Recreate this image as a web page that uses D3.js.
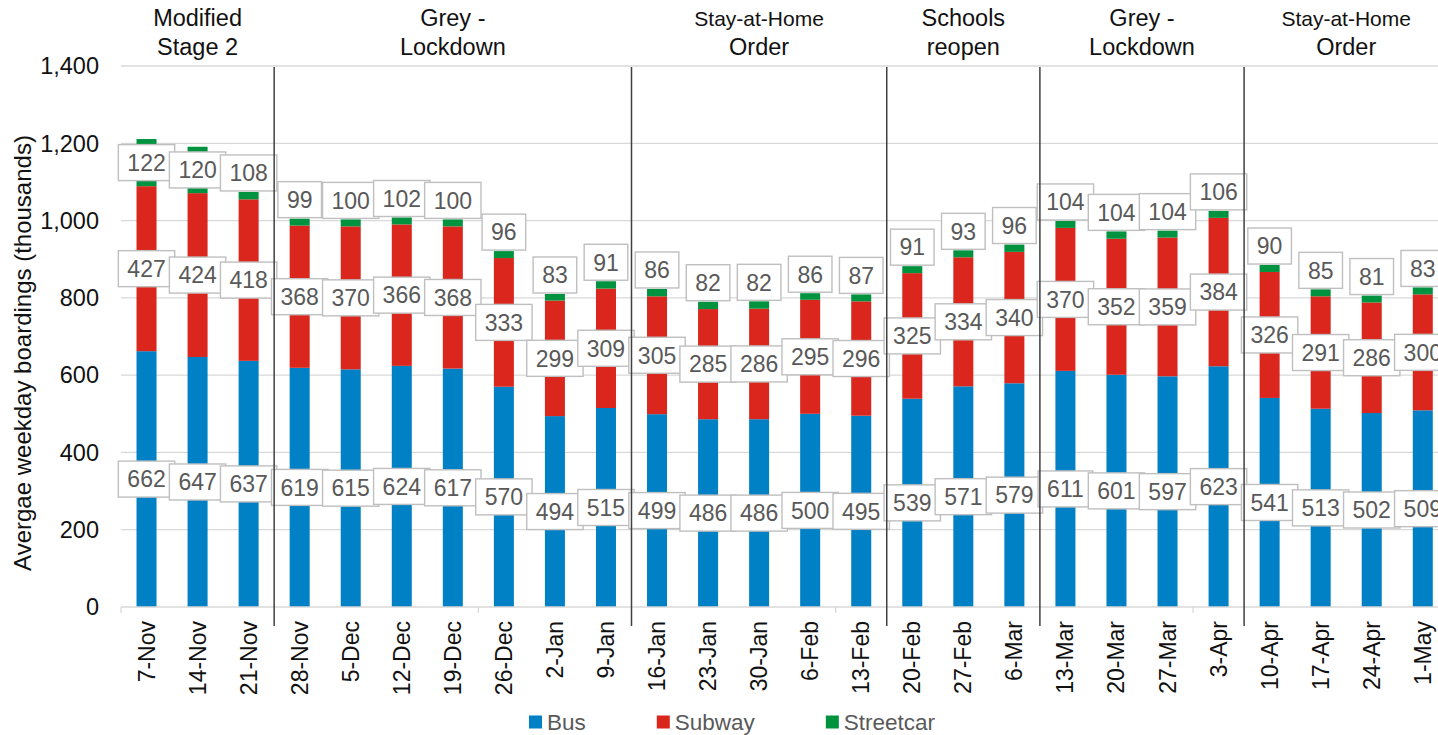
<!DOCTYPE html>
<html>
<head>
<meta charset="utf-8">
<script src="https://cdn.jsdelivr.net/npm/d3@7"></script>
<style>
  body { margin: 0; background: #fff; }
  svg { display: block; font-family: "Liberation Sans", Arial, sans-serif; }
</style>
</head>
<body>
<svg id="drawing_region"></svg>
<script>
// weekly data (thousands)
const weeks = ["7-Nov", "14-Nov", "21-Nov", "28-Nov", "5-Dec", "12-Dec", "19-Dec", "26-Dec",
  "2-Jan", "9-Jan", "16-Jan", "23-Jan", "30-Jan", "6-Feb", "13-Feb", "20-Feb", "27-Feb",
  "6-Mar", "13-Mar", "20-Mar", "27-Mar", "3-Apr", "10-Apr", "17-Apr", "24-Apr", "1-May"];
const bus = [662, 647, 637, 619, 615, 624, 617, 570, 494, 515, 499, 486, 486, 500, 495,
  539, 571, 579, 611, 601, 597, 623, 541, 513, 502, 509];
const subway = [427, 424, 418, 368, 370, 366, 368, 333, 299, 309, 305, 285, 286, 295, 296,
  325, 334, 340, 370, 352, 359, 384, 326, 291, 286, 300];
// streetcar: value shown in the label, and height of the drawn segment
const streetcarLabels = [122, 120, 108, 99, 100, 102, 100, 96, 83, 91, 86, 82, 82, 86, 87,
  91, 93, 96, 104, 104, 104, 106, 90, 85, 81, 83];
const streetcarBars = [122, 120, 19, 18, 18, 18, 18, 18, 17, 19, 19, 19, 19, 17, 18,
  18, 18, 19, 18, 19, 18, 18, 18, 18, 18, 18];
const yTicks = [0, 200, 400, 600, 800, 1000, 1200, 1400];
const seriesNames = ["Bus", "Subway", "Streetcar"];
const seriesColors = ["#0081c6", "#da261d", "#00933f"];
const phaseTitles = [["Modified", "Stage 2"], ["Grey -", "Lockdown"], ["Stay-at-Home", "Order"],
  ["Schools", "reopen"], ["Grey -", "Lockdown"], ["Stay-at-Home", "Order"]];
const phaseStarts = ["7-Nov", "28-Nov", "16-Jan", "20-Feb", "13-Mar", "10-Apr"];

const width = 1438, height = 735;
const margin = { top: 66, left: 121, bottom: 128 };
const step = 51.05;

const svg = d3.select("#drawing_region").attr("width", width).attr("height", height);

const x = d3.scaleBand()
  .domain(weeks)
  .range([margin.left, margin.left + step * weeks.length])
  .paddingInner(0.608)
  .paddingOuter(0.304);
const y = d3.scaleLinear().domain([0, 1400]).range([height - margin.bottom + 0, margin.top]);
const x0 = x.range()[0];
const boundary = (i) => x0 + i * x.step();

// gridlines
svg.append("g")
  .selectAll("line")
  .data(yTicks.slice(1))
  .join("line")
  .attr("x1", x0).attr("x2", width)
  .attr("y1", (d) => y(d)).attr("y2", (d) => y(d))
  .attr("stroke", "#d9d9d9").attr("stroke-width", 1.3);

// stacked bars
const rows = weeks.map((w, i) => ({ week: w, Bus: bus[i], Subway: subway[i], Streetcar: streetcarBars[i] }));
const stacked = d3.stack().keys(seriesNames)(rows);

svg.append("g")
  .selectAll("g")
  .data(stacked)
  .join("g")
  .attr("fill", (d, i) => seriesColors[i])
  .selectAll("rect")
  .data((d) => d)
  .join("rect")
  .attr("x", (d) => x(d.data.week))
  .attr("width", x.bandwidth())
  .attr("y", (d) => y(d[1]))
  .attr("height", (d) => y(d[0]) - y(d[1]));

// x axis line and ticks
svg.append("line")
  .attr("x1", x0).attr("x2", width)
  .attr("y1", y(0)).attr("y2", y(0))
  .attr("stroke", "#d9d9d9").attr("stroke-width", 1.3);
svg.append("g")
  .selectAll("line")
  .data([0, 7, 14, 21])
  .join("line")
  .attr("x1", (d) => boundary(d)).attr("x2", (d) => boundary(d))
  .attr("y1", y(0)).attr("y2", y(0) + 6)
  .attr("stroke", "#d9d9d9").attr("stroke-width", 1.3);

// data labels
const labelValues = [bus, subway, streetcarLabels];
const boxH = 36, padX = 9;
const labels = [];
stacked.forEach((s, k) => {
  s.forEach((d, i) => {
    const top = y(d[1]), bottom = y(d[0]);
    const cy = bottom - top >= boxH ? (top + bottom) / 2 : top - boxH / 2 - 1;
    labels.push({ cx: x(d.data.week) + x.bandwidth() / 2, cy: cy, text: labelValues[k][i] });
  });
});

const labelGroups = svg.append("g")
  .selectAll("g")
  .data(labels)
  .join("g")
  .attr("transform", (d) => `translate(${d.cx}, ${d.cy})`);

labelGroups.append("rect")
  .attr("fill", "#fff")
  .attr("stroke", "#bfbfbf")
  .attr("stroke-width", 1.4);

labelGroups.append("text")
  .attr("text-anchor", "middle")
  .attr("dy", "0.36em")
  .attr("font-size", 23)
  .attr("fill", "#595959")
  .text((d) => d.text);

labelGroups.each(function () {
  const g = d3.select(this);
  const w = g.select("text").node().getComputedTextLength() + padX * 2;
  g.select("rect")
    .attr("x", -w / 2).attr("y", -boxH / 2)
    .attr("width", w).attr("height", boxH);
});

// phase separators
svg.append("g")
  .selectAll("line")
  .data(phaseStarts.slice(1))
  .join("line")
  .attr("x1", (d) => boundary(weeks.indexOf(d)))
  .attr("x2", (d) => boundary(weeks.indexOf(d)))
  .attr("y1", y(1400) + 1).attr("y2", y(0) + 19)
  .attr("stroke", "#404040").attr("stroke-width", 1.5);

// phase titles
phaseTitles.forEach((lines, i) => {
  const start = weeks.indexOf(phaseStarts[i]);
  const end = i + 1 < phaseStarts.length ? weeks.indexOf(phaseStarts[i + 1]) : weeks.length;
  const cx = (boundary(start) + boundary(end)) / 2;
  const t = svg.append("text")
    .attr("x", cx)
    .attr("text-anchor", "middle")
    .attr("fill", "#111");
  lines.forEach((line, j) => {
    t.append("tspan")
      .attr("x", cx)
      .attr("y", j === 0 ? 26 : 55)
      .attr("font-size", line === "Stay-at-Home" ? 21 : 23.5)
      .text(line);
  });
});

// category labels
svg.append("g")
  .selectAll("text")
  .data(weeks)
  .join("text")
  .attr("transform", (d) => `translate(${x(d) + x.bandwidth() / 2 + 8}, ${y(0) + 14}) rotate(-90)`)
  .attr("text-anchor", "end")
  .attr("font-size", 23)
  .attr("fill", "#111")
  .text((d) => d);

// y tick labels
svg.append("g")
  .selectAll("text")
  .data(yTicks)
  .join("text")
  .attr("x", 99)
  .attr("y", (d) => y(d))
  .attr("dy", "0.35em")
  .attr("text-anchor", "end")
  .attr("font-size", 23.5)
  .attr("fill", "#111")
  .text((d) => d3.format(",")(d));

// y axis title
svg.append("text")
  .attr("transform", "translate(31, 353) rotate(-90)")
  .attr("text-anchor", "middle")
  .attr("font-size", 24)
  .attr("fill", "#111")
  .text("Avergae weekday boardings (thousands)");

// legend
const legend = svg.append("g").attr("transform", "translate(529, 722)");
let lx = 0;
seriesNames.forEach((name, i) => {
  legend.append("rect")
    .attr("x", lx).attr("y", -6.5)
    .attr("width", 13).attr("height", 13)
    .attr("fill", seriesColors[i]);
  const t = legend.append("text")
    .attr("x", lx + 18)
    .attr("dy", "0.36em")
    .attr("font-size", 22.5)
    .attr("fill", "#595959")
    .text(name);
  lx += 18 + t.node().getComputedTextLength() + 71;
});
</script>
</body>
</html>
